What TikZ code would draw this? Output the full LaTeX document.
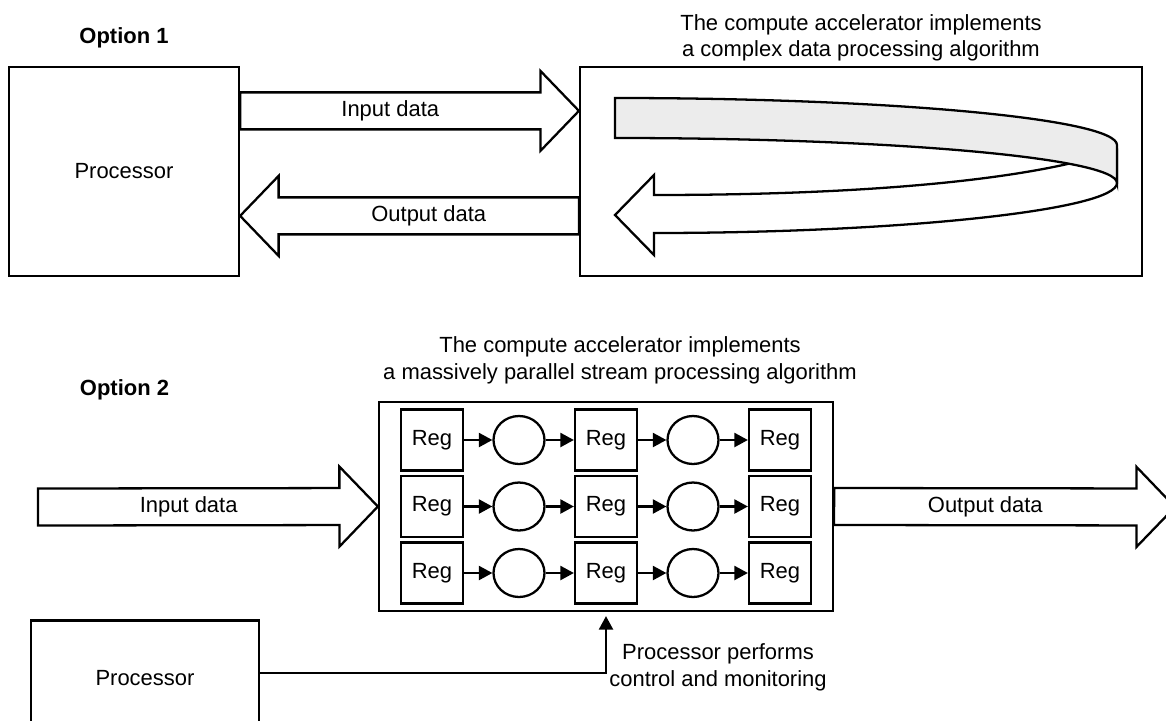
\documentclass[tikz,border=0pt]{standalone}
\usepackage{fontspec}
\setmainfont{Liberation Sans}
\usetikzlibrary{positioning,calc,arrows.meta,shapes.geometric}

\newcommand{\figfont}{\fontsize{12.5}{15.2}\selectfont}
\newcommand{\shaftw}{0.37cm}
\newcommand{\headw}{0.8cm}
\newcommand{\headl}{0.77cm}

\tikzset{
  box/.style={draw, line width=1.3pt, inner sep=0pt},
  reg/.style={draw, line width=1.3pt, minimum width=1.24cm, minimum height=1.22cm, inner sep=0pt},
  op/.style={draw, ellipse, line width=1.3pt, minimum width=1.02cm, minimum height=0.96cm, inner sep=0pt},
  flow/.style={line width=1.3pt, -{Triangle[length=0.27cm,width=0.28cm]}},
  fat/.style={draw, line width=1.3pt, fill=white, line join=miter, to path={
    ($(\tikztostart)!\shaftw!90:(\tikztotarget)$)
    -- ($($(\tikztotarget)!\headl!(\tikztostart)$)!\shaftw!-90:(\tikztostart)$)
    -- ($($(\tikztotarget)!\headl!(\tikztostart)$)!\headw!-90:(\tikztostart)$)
    -- (\tikztotarget)
    -- ($($(\tikztotarget)!\headl!(\tikztostart)$)!\headw!90:(\tikztostart)$)
    -- ($($(\tikztotarget)!\headl!(\tikztostart)$)!\shaftw!90:(\tikztostart)$)
    -- ($(\tikztostart)!\shaftw!-90:(\tikztotarget)$)
    -- cycle}},
}

\begin{document}
\begin{tikzpicture}[x=0.02cm, y=-0.02cm, every node/.style={font=\figfont}]
  \useasboundingbox (0,0) rectangle (1166,720);
  \clip (0,0) rectangle (1166,720);

  % option 1
  \node[box, minimum width=4.6cm, minimum height=4.18cm] (proc1) at (124,171.5) {Processor};
  \node[box, minimum width=11.24cm, minimum height=4.18cm] (acc1) at (861,171.5) {};
  \node[above=0.35cm of proc1, inner sep=0pt, font=\figfont\bfseries] (opt1) {Option 1};
  \node[above=0.08cm of acc1, inner sep=0pt, align=center] (title1)
    {The compute accelerator implements\\a complex data processing algorithm};

  \coordinate (in1a) at ($(proc1.north east)+(0,45)$);
  \coordinate (in1b) at ($(acc1.north west)+(0,45)$);
  \coordinate (out1a) at ($(acc1.north west)+(0,150)$);
  \coordinate (out1b) at ($(proc1.north east)+(0,150)$);
  \draw[fat] (in1a) to (in1b);
  \draw[fat] (out1a) to (out1b);
  \path (in1a) -- ($(in1b)!\headl!(in1a)$) node[midway] (lin1) {Input data};
  \path (out1a) -- ($(out1b)!\headl!(out1a)$) node[midway] (lout1) {Output data};

  % loop inside the accelerator
  \draw[line width=1.3pt, fill=white, line join=miter] (1117,150) -- (1117,183)
    .. controls (1117,210) and (900,233) .. (654,233) -- (654,255) -- (615,215)
    -- (654,175) -- (654,195) .. controls (880,195) and (1040,178) .. (1117,150) -- cycle;
  \draw[line width=1.3pt, fill=gray!15] (615,98) .. controls (892,98) and (1117,119) .. (1117,145)
    -- (1117,183) .. controls (1117,158) and (892,138) .. (615,138) -- cycle;

  % option 2
  \node[inner sep=0pt, font=\figfont\bfseries] (opt2) at (124.5,389.5) {Option 2};
  \node[box, minimum width=9.08cm, minimum height=4.18cm] (acc2) at (606,506.5) {};
  \node[above=0.33cm of acc2, xshift=0.28cm, inner sep=0pt, align=center] (title2)
    {The compute accelerator implements\\a massively parallel stream processing algorithm};

  \foreach \r in {1,2,3}{
    \foreach \c in {1,2,3}
      \node[reg] (r\r\c) at ($(acc2.center)+({(\c-2)*174},{(\r-2)*66.5})$) {Reg};
    \node[op] (o\r1) at ($(r\r1)!0.5!(r\r2)$) {};
    \node[op] (o\r2) at ($(r\r2)!0.5!(r\r3)$) {};
    \draw[flow] (r\r1) -- (o\r1);
    \draw[flow] (o\r1) -- (r\r2);
    \draw[flow] (r\r2) -- (o\r2);
    \draw[flow] (o\r2) -- (r\r3);
  }

  \coordinate (src) at (38,507);
  \coordinate (sink) at (1175,507);
  \draw[fat] (src) to (acc2.west);
  \draw[fat] (acc2.east) to (sink);
  \path (src) -- ($(acc2.west)!\headl!(src)$) node[midway] (lin2) {Input data};
  \path (acc2.east) -- ($(sink)!\headl!(acc2.east)$) node[midway] (lout2) {Output data};

  \node[box, minimum width=4.56cm, minimum height=2.3cm] (proc2) at (145,678) {Processor};
  \draw[flow] ([yshift=0.1cm]proc2.east) -| ([yshift=-0.08cm]acc2.south);
  \node[align=center, inner sep=0pt] (ctrl) at (718,667.5)
    {Processor performs\\control and monitoring};
\end{tikzpicture}
\end{document}
